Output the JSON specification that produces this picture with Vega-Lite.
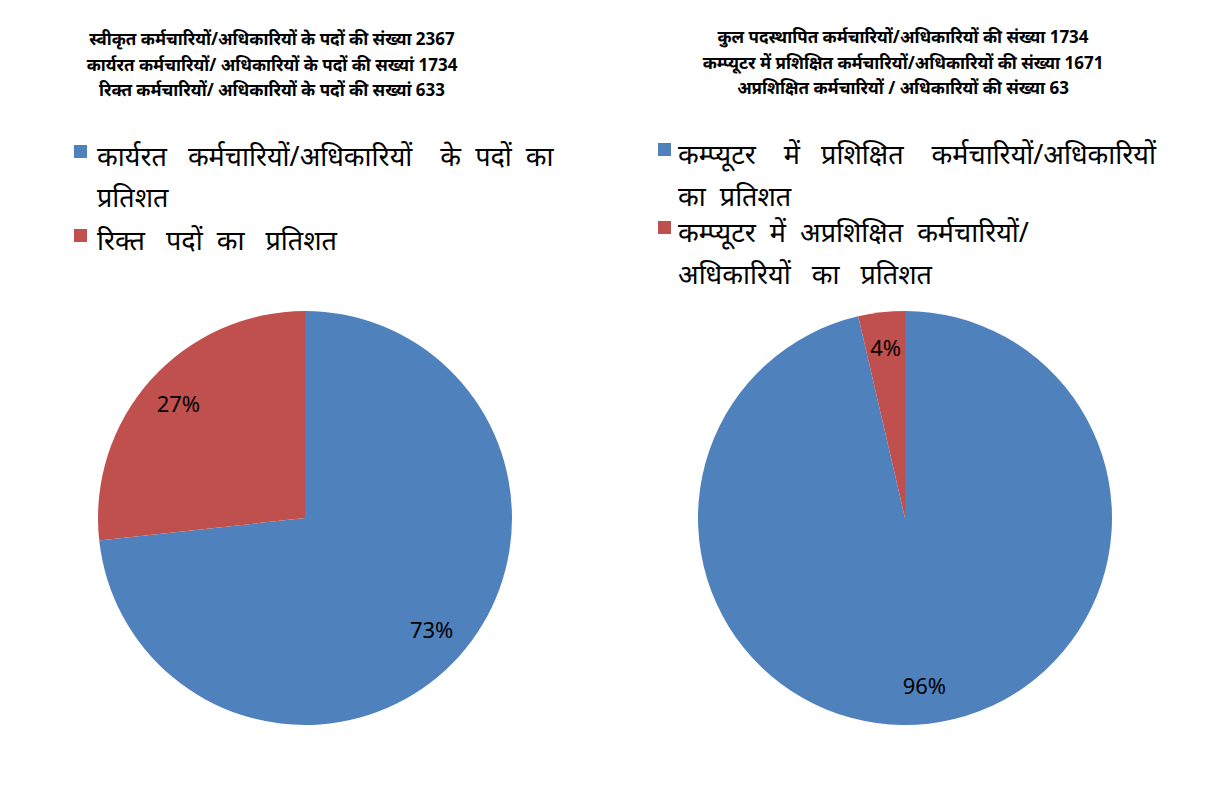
{
  "$schema": "https://vega.github.io/schema/vega-lite/v6.json",
  "padding": {"left": 3, "top": 29, "right": 0, "bottom": 0},
  "spacing": 0,
  "background": "white",
  "config": {
    "font": "Noto Sans",
    "view": {"stroke": null, "fill": null},
    "title": {"fontSize": 17, "fontWeight": "bold", "lineHeight": 25.5, "color": "#000000", "anchor": "middle", "frame": "group", "font": "Noto Sans", "offset": 38}
  },
  "resolve": {"scale": {"color": "independent", "theta": "independent"}},
  "hconcat": [
    {
      "width": 604,
      "height": 536,
      "title": {"text": ["स्वीकृत कर्मचारियों/अधिकारियों के पदों की संख्या 2367", "कार्यरत कर्मचारियों/ अधिकारियों के पदों की सख्यां 1734", "रिक्त कर्मचारियों/ अधिकारियों के पदों की सख्यां 633"], "dx": -33},
      "data": {"values": [
        {"category": "कार्यरत\u00a0\u00a0 कर्मचारियों/अधिकारियों\u00a0\u00a0\u00a0 के\u00a0 पदों\u00a0 का|प्रतिशत", "value": 1734, "pct": "73%"},
        {"category": "रिक्त\u00a0\u00a0 पदों\u00a0 का\u00a0\u00a0 प्रतिशत", "value": 633, "pct": "27%"}
      ]},
      "encoding": {
        "theta": {"field": "value", "type": "quantitative", "stack": true},
        "order": {"field": "value", "sort": "descending"}
      },
      "layer": [
        {
          "mark": {"type": "arc", "outerRadius": 207},
          "encoding": {
            "color": {
              "field": "category", "type": "nominal",
              "scale": {"domain": ["कार्यरत\u00a0\u00a0 कर्मचारियों/अधिकारियों\u00a0\u00a0\u00a0 के\u00a0 पदों\u00a0 का|प्रतिशत", "रिक्त\u00a0\u00a0 पदों\u00a0 का\u00a0\u00a0 प्रतिशत"], "range": ["#4F81BD", "#C0504D"]},
              "legend": {
                "orient": "none", "legendX": 64, "legendY": -112, "title": null,
                "symbolType": "square", "symbolSize": 170, "symbolStrokeWidth": 0,
                "labelFontSize": 27, "labelLimit": 0, "labelColor": "#000000", "labelFont": "Noto Sans",
                "labelExpr": "split(datum.label, '|')", "rowPadding": 10, "labelOffset": 3,
                "encode": {"labels": {"update": {"lineHeight": {"value": 41}, "dy": {"value": 6}}}}
              }
            }
          }
        },
        {
          "mark": {"type": "text", "radius": 170, "fontSize": 22, "color": "#000000"},
          "encoding": {"text": {"field": "pct", "type": "nominal"}}
        }
      ]
    },
    {
      "width": 596,
      "height": 536,
      "title": {"text": ["कुल पदस्थापित कर्मचारियों/अधिकारियों की संख्या 1734", "कम्प्यूटर में प्रशिक्षित कर्मचारियों/अधिकारियों की संख्या 1671", "अप्रशिक्षित कर्मचारियों / अधिकारियों की संख्या 63"], "dx": -2},
      "data": {"values": [
        {"category": "कम्प्यूटर\u00a0\u00a0\u00a0 में\u00a0\u00a0 प्रशिक्षित\u00a0\u00a0\u00a0 कर्मचारियों/अधिकारियों|का\u00a0 प्रतिशत", "value": 1671, "pct": "96%"},
        {"category": "कम्प्यूटर\u00a0 में\u00a0 अप्रशिक्षित\u00a0 कर्मचारियों/|अधिकारियों\u00a0\u00a0 का\u00a0\u00a0 प्रतिशत", "value": 63, "pct": "4%"}
      ]},
      "encoding": {
        "theta": {"field": "value", "type": "quantitative", "stack": true},
        "order": {"field": "value", "sort": "descending"}
      },
      "layer": [
        {
          "mark": {"type": "arc", "outerRadius": 207},
          "encoding": {
            "color": {
              "field": "category", "type": "nominal",
              "scale": {"domain": ["कम्प्यूटर\u00a0\u00a0\u00a0 में\u00a0\u00a0 प्रशिक्षित\u00a0\u00a0\u00a0 कर्मचारियों/अधिकारियों|का\u00a0 प्रतिशत", "कम्प्यूटर\u00a0 में\u00a0 अप्रशिक्षित\u00a0 कर्मचारियों/|अधिकारियों\u00a0\u00a0 का\u00a0\u00a0 प्रतिशत"], "range": ["#4F81BD", "#C0504D"]},
              "legend": {
                "orient": "none", "legendX": 44, "legendY": -114, "title": null,
                "symbolType": "square", "symbolSize": 170, "symbolStrokeWidth": 0,
                "labelFontSize": 27, "labelLimit": 0, "labelColor": "#000000", "labelFont": "Noto Sans",
                "labelExpr": "split(datum.label, '|')", "rowPadding": 3, "labelOffset": 0,
                "encode": {"labels": {"update": {"lineHeight": {"value": 42}, "dy": {"value": 6}}}}
              }
            }
          }
        },
        {
          "mark": {"type": "text", "radius": 170, "fontSize": 22, "color": "#000000"},
          "encoding": {"text": {"field": "pct", "type": "nominal"}}
        }
      ]
    }
  ]
}
